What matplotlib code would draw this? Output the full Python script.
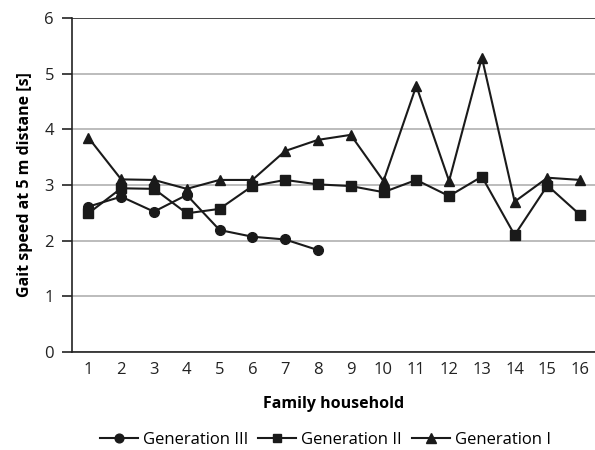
import matplotlib
matplotlib.use("Agg")
import matplotlib.pyplot as plt

households = list(range(1, 17))
gen3 = [2.61, 2.79, 2.52, 2.82, 2.19, 2.07, 2.02, 1.83]
gen2 = [2.49, 2.94, 2.93, 2.49, 2.57, 2.98, 3.09, 3.01, 2.98, 2.87, 3.09, 2.80, 3.15, 2.10, 2.99, 2.46]
gen1 = [3.85, 3.10, 3.09, 2.93, 3.09, 3.09, 3.61, 3.81, 3.90, 3.07, 4.78, 3.07, 5.29, 2.70, 3.13, 3.09]
yticks = [0, 1, 2, 3, 4, 5, 6]

plt.rcParams['font.family'] = ['Open Sans', 'DejaVu Sans']

fig = plt.figure(figsize=(5.95, 4.5), dpi=100)
ax = fig.add_axes([0.121, 0.218, 0.879, 0.742])

c = '#1a1a1a'
ax.plot(households[:len(gen3)], gen3, '-o', color=c, lw=1.5, ms=7, label='Generation III', zorder=3)
ax.plot(households, gen2, '-s', color=c, lw=1.5, ms=7, label='Generation II', zorder=3)
ax.plot(households, gen1, '-^', color=c, lw=1.5, ms=7.5, label='Generation I', zorder=3)

ax.set_xlim(0.5, 16.45)
ax.set_ylim(0, 6)
ax.set_yticks(yticks)
ax.set_xticks(households)
ax.grid(axis='y', color='#b0b0b0', lw=1.2)
ax.axhline(6, color='#333333', lw=1.2, zorder=2)
for s in ['top', 'right']:
    ax.spines[s].set_visible(False)
ax.spines['left'].set_color('#222222')
ax.spines['bottom'].set_color('#222222')
ax.spines['left'].set_linewidth(1.2)
ax.spines['bottom'].set_linewidth(1.2)
ax.tick_params(axis='x', length=0, labelsize=12, pad=7, colors='#222222')
ax.tick_params(axis='y', length=7, width=1.2, labelsize=12, pad=6, colors='#222222')
ax.set_axisbelow(True)

ax.set_xlabel('Family household', fontsize=11.5, fontweight='bold', labelpad=13)
ax.set_ylabel('Gait speed at 5 m distane [s]', fontsize=11.5, fontweight='bold', labelpad=8)

fig.legend(loc='center', bbox_to_anchor=(0.547, 0.022), ncol=3, frameon=False,
           fontsize=12, handlelength=2.3, handletextpad=0.3, columnspacing=0.6,
           borderpad=0.1, markerscale=0.9)

fig.savefig('out.png', dpi=100)
